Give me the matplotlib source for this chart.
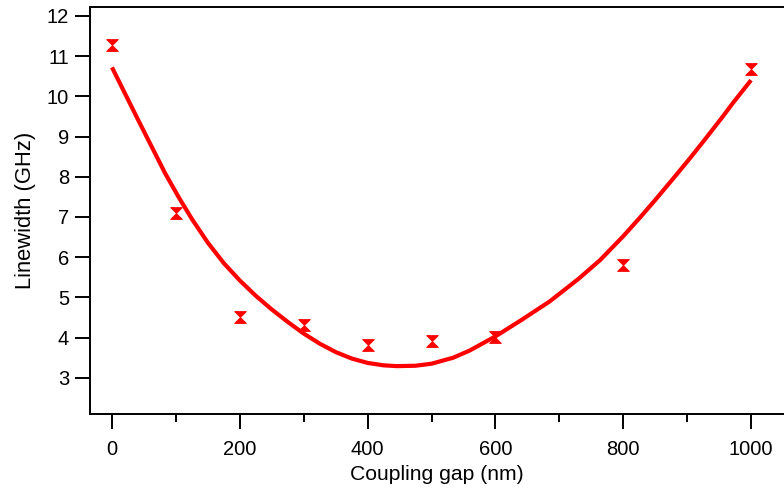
import matplotlib
matplotlib.use("Agg")
import matplotlib.pyplot as plt
from matplotlib.path import Path
from matplotlib.ticker import MultipleLocator

plt.rcParams["font.family"] = ["Liberation Sans", "DejaVu Sans"]

# measured linewidths
gap_nm = [0, 100, 200, 300, 400, 500, 600, 800, 1000]
linewidth_ghz = [11.27, 7.11, 4.50, 4.31, 3.81, 3.91, 4.01, 5.80, 10.67]

# fit curve
fit_gap = [0, 20, 41, 62, 83, 104, 125, 150, 175, 200, 225, 250, 275, 300,
           325, 350, 375, 400, 425, 446, 475, 500, 534, 560, 600, 640, 685,
           730, 764, 800, 826, 850, 878, 905, 931, 955, 972, 1000]
fit_lw = [10.72, 10.08, 9.41, 8.75, 8.09, 7.50, 6.95, 6.36, 5.85, 5.42, 5.04,
          4.70, 4.39, 4.10, 3.85, 3.64, 3.48, 3.37, 3.31, 3.29, 3.30, 3.35,
          3.50, 3.68, 4.03, 4.43, 4.90, 5.46, 5.93, 6.52, 6.98, 7.42, 7.95,
          8.47, 8.99, 9.48, 9.84, 10.40]

# hourglass marker (two triangles meeting at the centre)
hourglass = Path(
    [(-1, 1), (1, 1), (0, 0), (-1, 1), (-1, -1), (1, -1), (0, 0), (-1, -1)],
    [Path.MOVETO, Path.LINETO, Path.LINETO, Path.CLOSEPOLY,
     Path.MOVETO, Path.LINETO, Path.LINETO, Path.CLOSEPOLY],
)

fig = plt.figure(figsize=(7.84, 4.96), dpi=100)
ax = fig.add_axes([90 / 784, 1 - 414 / 496, 1 - 90 / 784, (414 - 7) / 496])

ax.plot(fit_gap, fit_lw, color="red", linewidth=3.0, solid_capstyle="butt",
        solid_joinstyle="round")
ax.plot(gap_nm, linewidth_ghz, linestyle="none", marker=hourglass,
        markersize=8.5, color="red", markeredgewidth=0.6)

ax.set_xlim(-34.4, 1051.6)
ax.set_ylim(2.10, 12.22)
ax.xaxis.set_major_locator(MultipleLocator(200))
ax.xaxis.set_minor_locator(MultipleLocator(100))
ax.yaxis.set_major_locator(MultipleLocator(1))

ax.spines["right"].set_visible(False)
for s in ax.spines.values():
    s.set_linewidth(1.4)

ax.tick_params(which="major", direction="out", length=11, width=1.4,
               labelsize=14.5)
ax.tick_params(axis="x", which="major", pad=8)
ax.tick_params(axis="y", which="major", pad=4)
ax.tick_params(which="minor", direction="out", length=6, width=1.4)
ax.tick_params(axis="y", which="minor", left=False)

ax.set_xlabel("Coupling gap (nm)", fontsize=15.2, labelpad=4)
ax.set_ylabel("Linewidth (GHz)", fontsize=15.8, labelpad=8)

fig.savefig("out.png", dpi=100)
